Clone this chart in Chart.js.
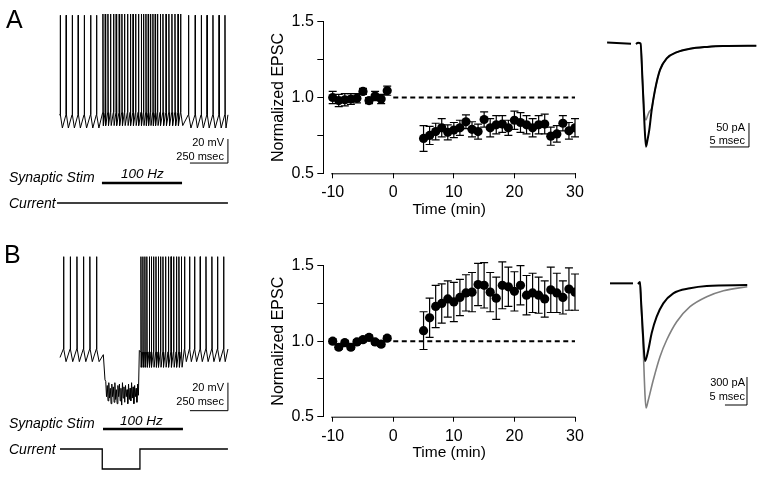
<!DOCTYPE html>
<html><head><meta charset="utf-8">
<script src="https://cdn.jsdelivr.net/npm/chart.js@4/dist/chart.umd.min.js"></script>
<style>
html,body{margin:0;padding:0;background:#fff}
body{width:764px;height:479px;overflow:hidden;position:relative;font-family:"Liberation Sans",Arial,Helvetica,sans-serif;color:#000}
canvas{position:absolute}
.t{position:absolute;white-space:nowrap;line-height:1;color:#000}
.i{font-style:italic}
.r{text-align:right}
</style></head><body>
<canvas id="trA" width="240" height="230" style="left:0;top:0"></canvas>
<canvas id="trB" width="240" height="239" style="left:0;top:240px"></canvas>
<canvas id="sumA" width="330" height="225" style="left:260px;top:0"></canvas>
<canvas id="sumB" width="330" height="239" style="left:260px;top:240px"></canvas>
<canvas id="epA" width="169" height="150" style="left:595px;top:20px"></canvas>
<canvas id="epB" width="169" height="180" style="left:595px;top:260px"></canvas>

<div class="t" style="left:6px;top:6.5px;font-size:25px">A</div>
<div class="t" style="left:4px;top:241.5px;font-size:25px">B</div>
<div class="t i" style="left:9px;top:170px;font-size:14px">Synaptic Stim</div>
<div class="t i" style="left:121px;top:166.5px;font-size:13.5px">100 Hz</div>
<div class="t i" style="left:9px;top:196.4px;font-size:14px">Current</div>
<div class="t i" style="left:9px;top:415.6px;font-size:14px">Synaptic Stim</div>
<div class="t i" style="left:120px;top:414.4px;font-size:13.5px">100 Hz</div>
<div class="t i" style="left:9px;top:441.8px;font-size:14px">Current</div>
<div class="t r" style="right:540px;top:137.1px;font-size:11px">20 mV</div>
<div class="t r" style="right:540px;top:150.6px;font-size:11px">250 msec</div>
<div class="t r" style="right:540px;top:381.6px;font-size:11px">20 mV</div>
<div class="t r" style="right:540px;top:396.1px;font-size:11px">250 msec</div>
<div class="t r" style="right:19px;top:121.6px;font-size:11px">50 pA</div>
<div class="t r" style="right:19px;top:134.6px;font-size:11px">5 msec</div>
<div class="t r" style="right:19px;top:377.1px;font-size:11px">300 pA</div>
<div class="t r" style="right:19px;top:391.3px;font-size:11px">5 msec</div>

<script>
// ---------------- DATA ----------------
// Summary plots (normalized EPSC vs time, min)
const timePre  = [-10,-9,-8,-7,-6,-5,-4,-3,-2,-1];
const timePost = [5,6,7,8,9,10,11,12,13,14,15,16,17,18,19,20,21,22,23,24,25,26,27,28,29,30];
const xTickValues = [-10,0,10,20,30];
const yTickValues = [0.5,0.75,1.0,1.25,1.5];

const epscA_pre     = [1.00,0.98,0.985,0.99,0.995,1.04,0.98,1.01,0.99,1.045];
const epscA_preErr  = [0.04,0.04,0.04,0.035,0.03,0.02,0.02,0.03,0.03,0.03];
const epscA_post    = [0.73,0.75,0.775,0.80,0.77,0.785,0.80,0.84,0.79,0.775,0.855,0.80,0.82,0.825,0.80,0.85,0.835,0.82,0.80,0.82,0.825,0.745,0.76,0.83,0.78,0.80];
const epscA_postErr = [0.085,0.06,0.055,0.06,0.05,0.05,0.05,0.045,0.05,0.05,0.05,0.06,0.06,0.055,0.05,0.06,0.065,0.06,0.06,0.06,0.065,0.06,0.055,0.05,0.055,0.06];

const epscB_pre     = [1.00,0.96,0.99,0.96,0.995,1.01,1.025,0.995,0.98,1.02];
const epscB_preErr  = [0.015,0.015,0.015,0.015,0.015,0.015,0.015,0.015,0.015,0.015];
const epscB_post    = [1.07,1.155,1.23,1.25,1.28,1.26,1.29,1.32,1.325,1.375,1.37,1.325,1.285,1.37,1.36,1.33,1.37,1.305,1.32,1.305,1.28,1.34,1.32,1.29,1.345,1.325];
const epscB_postErr = [0.125,0.13,0.14,0.13,0.12,0.13,0.12,0.12,0.13,0.14,0.15,0.13,0.14,0.155,0.13,0.13,0.13,0.13,0.13,0.12,0.12,0.15,0.13,0.11,0.14,0.12];
const baselineLevel = [1.0, 1.0];
const baselineSpan  = [0, 30];

// Current-clamp traces (spike times in ms)
const spikesA_pre  = [0,39,79,118,158,200,239];
const spikesA_stim = [281,296,314,331,351,368,388,406,423,443,461,479,496,514,533,548,564,579,594,610,625,640,658,676,696,715,735,755,775,792];
const spikesA_post = [844,888,928,966,1005,1045,1084];
const traceA_span  = [-5,1105];
const stimA        = [276,803];
const levelsA_rest = {thr:-54, trough:-65, peak:29};   // mV
const levelsA_stim = {thr:-52, trough:-63, peak:30};

const spikesB_pre  = [22,66,110,153,195,239];
const spikesB_stim = [531,544,557,570,586,599,614,630,645,660,676,693,711,729,746,764,781,797];
const spikesB_post = [818,851,884,921,959,998,1035,1075];
const traceB_span  = [0,1105];
const stimB        = [283,809];
const currentStepB = [278,526];
const levelsB_rest = {thr:-56, trough:-65, peak:10};
const levelsB_stim = {thr:-58, trough:-69, peak:10};
// hyperpolarized segment, EPSP-ridden membrane potential every 5 ms from 296 ms (mV)
const hyperB_start = 296;
const hyperB = [-79,-90,-82,-93,-80,-91,-84,-95,-81,-90,-83,-94,-80,-92,-85,-95,-82,-90,-81,-93,-84,-96,-80,-91,-83,-94,-82,-90,-85,-95,-81,-92,-84,-93,-80,-91,-83,-95,-82,-90,-84,-94,-81,-89];

// EPSC traces (ms, pA)
const epA_t      = [0,0.26,0.58,0.83,1.09,1.28,1.47,1.70,2.01,2.43,3.07,3.93,5.25,6.9,9.1,11.1,15.4];
const epA_black  = [0,2.7,1,-75,-169,-214,-200,-179,-137,-96,-54,-30,-17,-10,-6,-4,-3.5];
const epA_gray   = [0,2.7,1,-75,-148,-158,-150,-141,-134,-96,-54,-30,-17,-10,-6,-4,-3.5];
const epA_pre_t  = [-3.7,-0.64];
const epA_pre    = [3,0.5];

const epB_tBlack = [0,0.45,0.68,1.14,1.59,2.34,3.11,4.24,5.74,8.01,11.8,15.6,24.8];
const epB_black  = [0,21,-171,-546,-825,-707,-525,-350,-207,-100,-46,-21,-11];
const epB_tGray  = [0,0.45,0.68,1.14,1.59,1.82,2.34,3.47,4.99,6.51,8.78,11.8,15.6,19.4,24.8];
const epB_gray   = [0,21,-171,-632,-1189,-1328,-1242,-1028,-779,-600,-404,-243,-136,-72,-29];
const epB_pre_t  = [-6.36,-1.14];
const epB_pre    = [7,7];

// ---------------- HELPERS ----------------
Chart.defaults.font.family = '"Liberation Sans", Arial, Helvetica, sans-serif';
Chart.defaults.color = '#000';
Chart.defaults.animation = false;

const zip = (xs, ys) => xs.map((x, i) => ({x, y: ys[i]}));

function addSpikes(pts, times, lv, nextAfter, frac) {
  times.forEach((ts, i) => {
    const next = i < times.length - 1 ? times[i + 1] : nextAfter;
    const gap = next - ts;
    pts.push({x: ts, y: lv.thr}, {x: ts + 1.5, y: lv.peak}, {x: ts + 3.5, y: lv.thr},
             {x: ts + gap * frac, y: lv.trough});
  });
}

function lineDS(data, color, width, extra) {
  return Object.assign({data, showLine: true, borderColor: color, borderWidth: width,
    pointRadius: 0, fill: false, tension: 0}, extra || {});
}

function hiddenScales(x, y, yc) {
  const s = {
    x: {type: 'linear', display: false, min: x[0], max: x[1]},
    y: {type: 'linear', display: false, min: y[0], max: y[1]}
  };
  if (yc) s.yc = {type: 'linear', display: false, min: yc[0], max: yc[1]};
  return s;
}

const baseOpts = {responsive: false, animation: false, layout: {padding: 0},
  plugins: {legend: {display: false}, tooltip: {enabled: false}}};

// ---------------- TRACE A (current clamp) ----------------
(function () {
  const pts = [{x: traceA_span[0], y: levelsA_rest.thr}];
  addSpikes(pts, spikesA_pre, levelsA_rest, spikesA_stim[0], 0.4);
  addSpikes(pts, spikesA_stim, levelsA_stim, spikesA_post[0], 0.3);
  addSpikes(pts, spikesA_post, levelsA_rest, traceA_span[1], 0.4);
  pts.push({x: traceA_span[1], y: levelsA_rest.thr});
  const bar = {t: 1105, v: -94.2, dt: 250, dv: 20};
  new Chart(document.getElementById('trA'), {
    type: 'scatter',
    data: {datasets: [
      lineDS(pts, '#000', 1),
      lineDS([{x: bar.t - bar.dt, y: bar.v}, {x: bar.t, y: bar.v}, {x: bar.t, y: bar.v + bar.dv}], '#000', 1),
      lineDS([{x: stimA[0], y: 1}, {x: stimA[1], y: 1}], '#000', 2.5, {yAxisID: 'yc'}),
      lineDS([{x: -20, y: 0}, {x: traceA_span[1], y: 0}], '#000', 1.3, {yAxisID: 'yc'})
    ]},
    options: Object.assign({}, baseOpts, {scales: hiddenScales([-394.8, 1184.4], [-150, 41.67], [-1.35, 10.15])})
  });
})();

// ---------------- TRACE B ----------------
(function () {
  const pts = [{x: traceB_span[0], y: -62}];
  addSpikes(pts, spikesB_pre, levelsB_rest, 285, 0.4);
  pts.push({x: 285, y: -60}, {x: hyperB_start, y: -78});
  hyperB.forEach((v, i) => pts.push({x: hyperB_start + 5 + i * 5, y: v}));
  pts.push({x: 522, y: -57});
  addSpikes(pts, spikesB_stim, levelsB_stim, spikesB_post[0], 0.3);
  addSpikes(pts, spikesB_post, levelsB_rest, traceB_span[1], 0.4);
  pts.push({x: traceB_span[1], y: levelsB_rest.thr});
  const cur = [{x: 0, y: 0}, {x: currentStepB[0], y: 0}, {x: currentStepB[0], y: -1},
               {x: currentStepB[1], y: -1}, {x: currentStepB[1], y: 0}, {x: traceB_span[1], y: 0}];
  const bar = {t: 1105, v: -100, dt: 250, dv: 20};
  new Chart(document.getElementById('trB'), {
    type: 'scatter',
    data: {datasets: [
      lineDS(pts, '#000', 1),
      lineDS([{x: bar.t - bar.dt, y: bar.v}, {x: bar.t, y: bar.v}, {x: bar.t, y: bar.v + bar.dv}], '#000', 1),
      lineDS([{x: stimB[0], y: 1}, {x: stimB[1], y: 1}], '#000', 2.5, {yAxisID: 'yc'}),
      lineDS(cur, '#000', 1.3, {yAxisID: 'yc'})
    ]},
    options: Object.assign({}, baseOpts, {scales: hiddenScales([-394.8, 1184.4], [-148.8, 21.9], [-1.5, 10.45])})
  });
})();

// ---------------- SUMMARY PLOTS ----------------
const errorBars = {
  id: 'errorBars',
  beforeDatasetsDraw(chart) {
    const {ctx, scales: {x, y}} = chart;
    ctx.save();
    ctx.strokeStyle = '#000';
    ctx.lineWidth = 1.2;
    chart.data.datasets.forEach(ds => {
      if (!ds.errors) return;
      ds.data.forEach((p, i) => {
        const e = ds.errors[i];
        const px = x.getPixelForValue(p.x);
        const top = y.getPixelForValue(p.y + e);
        const bot = y.getPixelForValue(p.y - e);
        ctx.beginPath();
        ctx.moveTo(px, top); ctx.lineTo(px, bot);
        ctx.moveTo(px - 4, top); ctx.lineTo(px + 4, top);
        ctx.moveTo(px - 4, bot); ctx.lineTo(px + 4, bot);
        ctx.stroke();
      });
    });
    ctx.restore();
  }
};

// x axis line detached from the y axis (starts just before the first tick)
const detachedXAxis = {
  id: 'detachedXAxis',
  afterDraw(chart) {
    const {ctx, chartArea, scales: {x}} = chart;
    const x0 = x.getPixelForValue(xTickValues[0]) - 1.5;
    ctx.save();
    ctx.strokeStyle = '#000';
    ctx.lineWidth = 1;
    ctx.beginPath();
    ctx.moveTo(x0, chartArea.bottom + 0.5);
    ctx.lineTo(chartArea.right + 0.5, chartArea.bottom + 0.5);
    ctx.stroke();
    ctx.restore();
  }
};

function makeSummary(id, pre, preErr, post, postErr, L) {
  const pointStyle = {backgroundColor: '#000', borderColor: '#000', pointRadius: 4.6, pointBorderWidth: 0, showLine: false};
  new Chart(document.getElementById(id), {
    type: 'scatter',
    data: {datasets: [
      Object.assign({data: zip(timePre, pre), errors: preErr}, pointStyle),
      Object.assign({data: zip(timePost, post), errors: postErr}, pointStyle),
      lineDS(zip(baselineSpan, baselineLevel), '#000', 2, {borderDash: [5, 3.5]})
    ]},
    options: {
      responsive: false, animation: false,
      layout: {padding: {top: L.padTop, right: 15, left: 0, bottom: 0}},
      plugins: {legend: {display: false}, tooltip: {enabled: false}},
      scales: {
        x: {
          type: 'linear', min: -11.55, max: 30,
          afterBuildTicks: s => { s.ticks = xTickValues.map(v => ({value: v})); },
          afterFit: s => { s.height = L.xH; },
          grid: {drawOnChartArea: false, drawTicks: true, tickLength: 5, color: '#000', lineWidth: 1},
          border: {display: false},
          ticks: {font: {size: 16}, color: '#000', padding: L.tickPad, maxRotation: 0, callback: v => String(v)},
          title: {display: true, text: 'Time (min)', font: {size: 15.5}, color: '#000', padding: {top: 0, bottom: L.titlePad}}
        },
        y: {
          type: 'linear', min: 0.5, max: 1.5,
          afterBuildTicks: s => { s.ticks = yTickValues.map(v => ({value: v})); },
          afterFit: s => { s.width = 63.3; },
          grid: {drawOnChartArea: false, drawTicks: true, tickLength: 6, color: '#000', lineWidth: 1},
          border: {display: true, color: '#000', width: 1},
          ticks: {font: {size: 16}, color: '#000', padding: 3.5,
                  callback: v => (v === 0.5 || v === 1 || v === 1.5) ? v.toFixed(1) : ''},
          title: {display: true, text: 'Normalized EPSC', font: {size: 16}, color: '#000', padding: {top: 8.7, bottom: 0}}
        }
      }
    },
    plugins: [errorBars, detachedXAxis]
  });
}

makeSummary('sumA', epscA_pre, epscA_preErr, epscA_post, epscA_postErr,
  {padTop: 21.7, xH: 51.7, tickPad: 5, titlePad: 6});
makeSummary('sumB', epscB_pre, epscB_preErr, epscB_post, epscB_postErr,
  {padTop: 25.7, xH: 62.3, tickPad: 5.4, titlePad: 16.7});

// ---------------- EPSC TRACES ----------------
function makeEpsc(id, blackT, black, grayT, gray, preT, preV, bar, xr, yr) {
  const smooth = {cubicInterpolationMode: 'monotone'};
  new Chart(document.getElementById(id), {
    type: 'scatter',
    data: {datasets: [
      lineDS(zip(blackT, black), '#000', 2, smooth),
      lineDS(zip(preT, preV), '#000', 2),
      lineDS(zip(grayT, gray), '#808080', 1.6, smooth),
      lineDS([{x: bar.t - bar.dt, y: bar.i}, {x: bar.t, y: bar.i}, {x: bar.t, y: bar.i + bar.di}], '#000', 1)
    ]},
    options: Object.assign({}, baseOpts, {scales: hiddenScales(xr, yr)})
  });
}
makeEpsc('epA', epA_t, epA_black, epA_t, epA_gray, epA_pre_t, epA_pre,
  {t: 14.46, i: -214.5, dt: 5, di: 50}, [-5.248, 16.384], [-262.5, 50]);
makeEpsc('epB', epB_tBlack, epB_black, epB_tGray, epB_gray, epB_pre_t, epB_pre,
  {t: 24.74, i: -1296, dt: 5, di: 300}, [-9.761, 28.602], [-1670.8, 257]);
</script>
</body></html>
